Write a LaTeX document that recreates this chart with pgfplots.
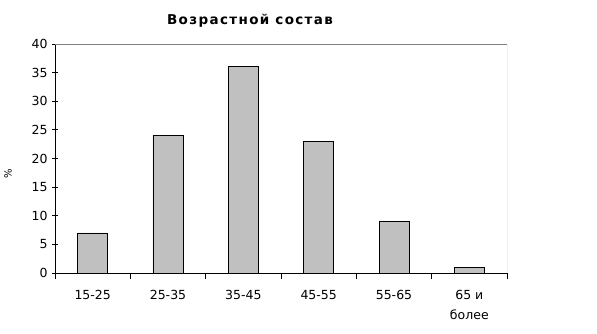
\documentclass[border=0pt]{standalone}
\usepackage{pgfplots}
\pgfplotsset{compat=1.18}
\usepackage{fontspec}
\setmainfont{DejaVu Sans}
\newfontfamily\titlefont[LetterSpace=10]{DejaVu Sans}
\definecolor{barfill}{RGB}{192,192,192}
\definecolor{frame}{RGB}{128,128,128}
\begin{document}
\begin{tikzpicture}
\useasboundingbox (0,0) rectangle (597bp,334bp);
\node[font=\fontsize{13.5bp}{15bp}\selectfont\titlefont\bfseries] at (250bp,313bp) {Возрастной состав};
\node[rotate=90,font=\fontsize{10bp}{11bp}\selectfont] at (8bp,160bp) {\%};
\begin{axis}[
  at={(55bp,61bp)}, anchor=south west,
  scale only axis, width=452bp, height=229bp,
  xmin=0, xmax=6, ymin=0, ymax=40,
  axis x line*=bottom, axis y line*=left,
  axis line style={black, line width=0.8pt, -},
  ytick={0,5,...,40},
  xtick={0.5,1.5,...,5.5},
  xticklabels={15-25,25-35,35-45,45-55,55-65,{65 и\\более}},
  xticklabel style={align=center, font=\fontsize{12.5bp}{20bp}\selectfont, yshift=-8bp},
  yticklabel style={font=\fontsize{12.5bp}{13bp}\selectfont, xshift=-1bp},
  major x tick style={draw=none},
  minor xtick={0,1,...,6},
  minor tick length=6bp, major tick length=6bp,
  tick align=center,
  tick style={black, line width=0.8pt},
  /pgf/number format/assume math mode=true,
  ybar, bar width=30bp, bar shift=0pt,
]
\addplot[fill=barfill, draw=black, line width=0.8pt] coordinates {(0.5,7) (1.5,24) (2.5,36) (3.5,23) (4.5,9) (5.5,1)};
\draw[frame, line width=0.8pt] (rel axis cs:0,1) -- (rel axis cs:1,1) -- (rel axis cs:1,0);
\end{axis}
\end{tikzpicture}
\end{document}
